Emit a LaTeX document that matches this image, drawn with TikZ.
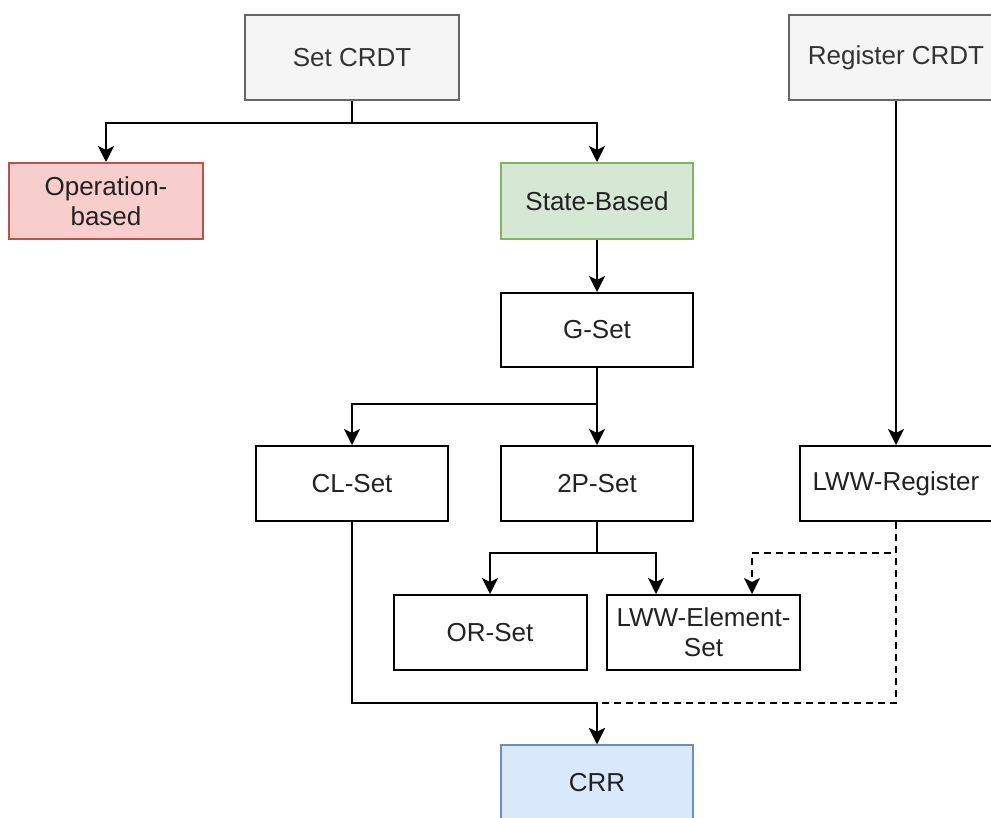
\documentclass[tikz,border=0pt]{standalone}
\usepackage{fontspec}
\setmainfont{Liberation Sans}
\usetikzlibrary{arrows.meta}
\definecolor{txt}{HTML}{222222}
\definecolor{greytxt}{HTML}{333333}
\definecolor{greyfill}{HTML}{F5F5F5}
\definecolor{greyline}{HTML}{666666}
\definecolor{redfill}{HTML}{F8CECC}
\definecolor{redline}{HTML}{B85450}
\definecolor{greenfill}{HTML}{D5E8D4}
\definecolor{greenline}{HTML}{82B366}
\definecolor{bluefill}{HTML}{DAE8FC}
\definecolor{blueline}{HTML}{6C8EBF}
\tikzset{
  box/.style={draw=black, fill=white, line width=2pt, minimum width=192pt,
    minimum height=75pt, inner sep=0pt, align=center, text=txt,
    font=\fontsize{26}{30}\selectfont},
  greybox/.style={box, fill=greyfill, draw=greyline, text=greytxt,
    minimum width=214pt, minimum height=85pt},
  redbox/.style={box, fill=redfill, draw=redline},
  greenbox/.style={box, fill=greenfill, draw=greenline},
  bluebox/.style={box, fill=bluefill, draw=blueline},
  link/.style={line width=2pt, draw=black,
    -{Stealth[length=16pt, width=16pt, inset=4pt]}},
  dashlink/.style={link, dash pattern=on 7pt off 5pt}
}
\begin{document}
\begin{tikzpicture}[x=1pt, y=-1pt]
\useasboundingbox (0,0) rectangle (991,817);
\clip (0,0) rectangle (991,817);
\fill[white] (0,0) rectangle (991,817);

% tree nodes
\node[greybox]  (set)    at (352,57.5)  {Set CRDT};
\node[greybox]  (reg)    at (896,57.5)  {Register CRDT};
\node[redbox, minimum width=194pt, minimum height=76pt] (op) at (106,201)
  {Operation-\\based};
\node[greenbox, minimum height=76pt] (state) at (597,201) {State-Based};
\node[box, minimum height=74pt] (gset) at (597,330) {G-Set};
\node[box]      (cl)     at (352,483.5) {CL-Set};
\node[box]      (twop)   at (597,483.5) {2P-Set};
\node[box]      (lwwreg) at (896,483.5) {LWW-Register};
\node[box, minimum width=193pt] (orset) at (490,632.5) {OR-Set};
\node[box, minimum width=193pt] (lwwe)  at (703.5,632.5)
  {LWW-Element-\\Set};
\node[bluebox]  (crr)    at (597,782.5) {CRR};

% dashed dependencies from the register
\draw[dashlink] (lwwreg.south) -- ++(0,31) -| ([xshift=48.5pt]lwwe.north);
\draw[dashlink] (lwwreg.south) -- ++(0,181) -| (crr.north);

% solid hierarchy
\draw[link] (set.south) -- ++(0,22) -| (op.north);
\draw[link] (set.south) -- ++(0,22) -| (state.north);
\draw[link] (state.south) -- (gset.north);
\draw[link] (gset.south) -- ++(0,36) -| (cl.north);
\draw[link] (gset.south) -- (twop.north);
\draw[link] (reg.south) -- (lwwreg.north);
\draw[link] (twop.south) -- ++(0,31) -| (orset.north);
\draw[link] (twop.south) -- ++(0,31) -| ([xshift=-47.5pt]lwwe.north);
\draw[link] (cl.south) -- ++(0,181) -| (crr.north);
\end{tikzpicture}
\end{document}
